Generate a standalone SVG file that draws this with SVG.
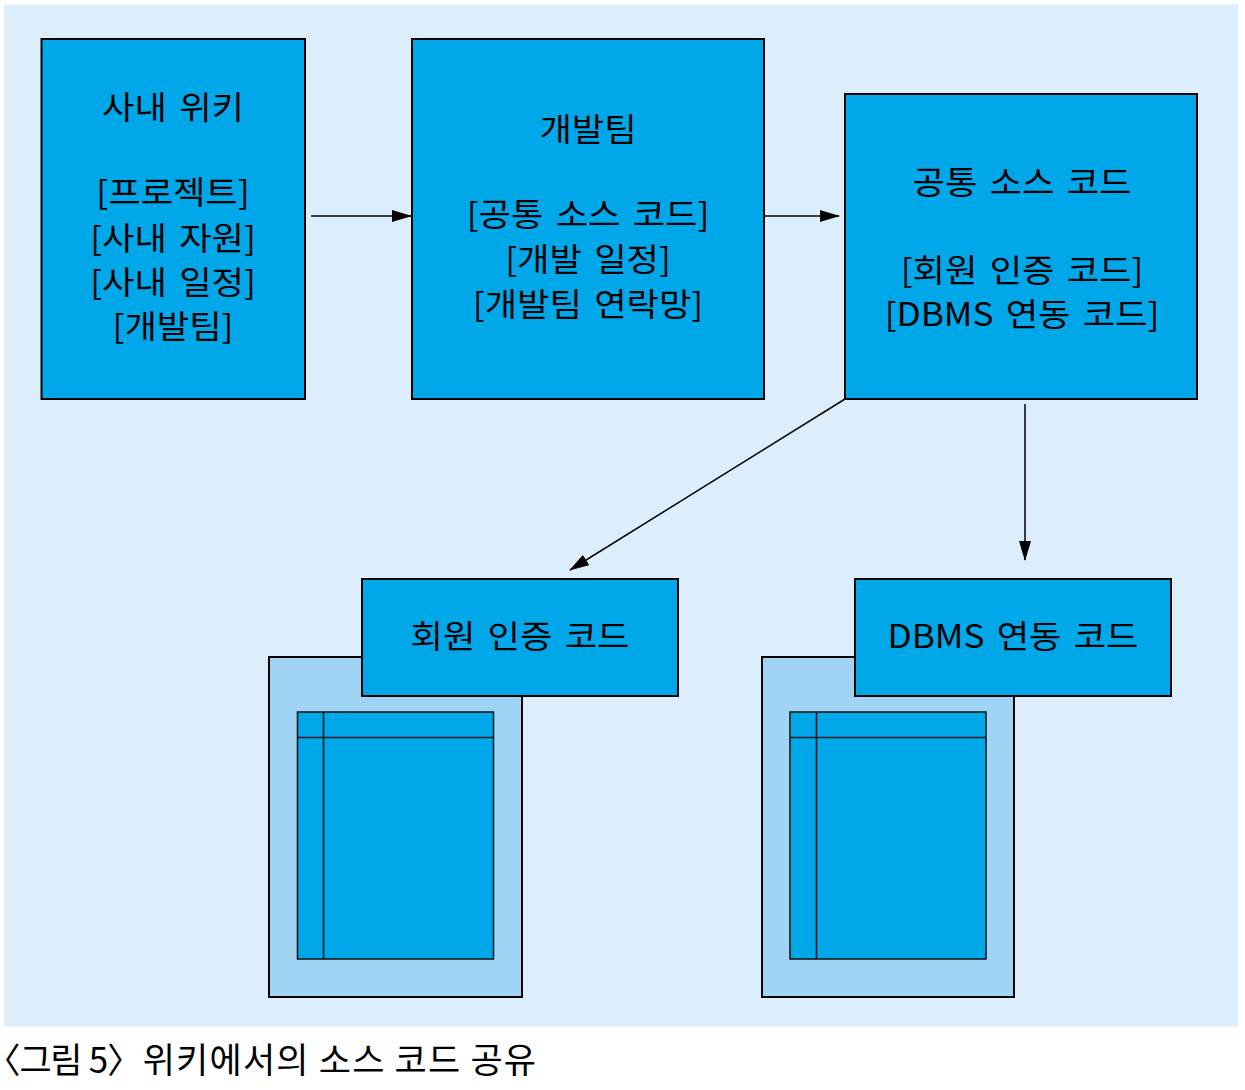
<svg xmlns="http://www.w3.org/2000/svg" width="1245" height="1090" viewBox="0 0 1245 1090">
<defs>
<style>
.bg{fill:#DCEDFB}
.box{fill:#00A7E9;stroke:#000;stroke-width:2}
.back{fill:#A0D4F4;stroke:#000;stroke-width:2}
.inner{fill:#00A7E9;stroke:#1a1a1a;stroke-width:1.6}
.ln{stroke:#1a1a1a;stroke-width:1.6;fill:none}
.t{font-family:"Noto Sans CJK KR","Noto Sans",sans-serif;font-size:32px;fill:#000;text-anchor:middle;word-spacing:4px}
.cap{font-family:"Noto Sans CJK KR","Noto Sans",sans-serif;font-size:35px;fill:#000}
.p{font-feature-settings:"palt"}
.conn{stroke:#000;stroke-width:1.5;fill:none;marker-end:url(#ah)}
</style>
<marker id="ah" markerUnits="userSpaceOnUse" markerWidth="20" markerHeight="12" refX="19" refY="6" orient="auto">
<path d="M0,0 L20,6 L0,12 z" fill="#000"/>
</marker>
</defs>
<rect class="bg" x="4" y="4.5" width="1234" height="1022"/>

<g id="wiki">
<rect class="box" x="41.5" y="39" width="263.5" height="360"/>
<text class="t" transform="translate(173,119) scale(1.1,1)">사내 위키</text>
<text class="t" transform="translate(173,204) scale(1.1,1)">[프로젝트]</text>
<text class="t" transform="translate(173,250) scale(1.1,1)">[사내 자원]</text>
<text class="t" transform="translate(173,294) scale(1.1,1)">[사내 일정]</text>
<text class="t" transform="translate(173,338) scale(1.1,1)">[개발팀]</text>
</g>

<g id="devteam">
<rect class="box" x="412" y="39" width="352" height="360"/>
<text class="t" transform="translate(588,141) scale(1.1,1)">개발팀</text>
<text class="t" transform="translate(588,226) scale(1.1,1)">[공통 소스 코드]</text>
<text class="t" transform="translate(588,271) scale(1.1,1)">[개발 일정]</text>
<text class="t" transform="translate(588,316) scale(1.1,1)">[개발팀 연락망]</text>
</g>

<g id="common">
<rect class="box" x="845" y="94" width="352" height="305"/>
<text class="t" transform="translate(1022,194) scale(1.1,1)">공통 소스 코드</text>
<text class="t" transform="translate(1022,282) scale(1.1,1)">[회원 인증 코드]</text>
<text class="t" transform="translate(1022,326) scale(1.1,1)">[DBMS 연동 코드]</text>
</g>

<g id="auth">
<rect class="back" x="269" y="657" width="253" height="340"/>
<rect class="inner" x="297.5" y="712" width="196" height="247"/>
<line class="ln" x1="323.5" y1="712" x2="323.5" y2="959"/>
<line class="ln" x1="297.5" y1="737.5" x2="493.5" y2="737.5"/>
<rect class="box" x="362" y="579" width="316" height="117"/>
<text class="t" transform="translate(520,648) scale(1.1,1)">회원 인증 코드</text>
</g>

<g id="dbms">
<rect class="back" x="762" y="657" width="252" height="340"/>
<rect class="inner" x="790" y="712" width="196" height="247"/>
<line class="ln" x1="816.5" y1="712" x2="816.5" y2="959"/>
<line class="ln" x1="790" y1="737.5" x2="986" y2="737.5"/>
<rect class="box" x="855" y="579" width="316" height="117"/>
<text class="t" transform="translate(1013,648) scale(1.1,1)">DBMS 연동 코드</text>
</g>

<g id="connectors">
<line class="conn" x1="311" y1="216" x2="411" y2="216"/>
<line class="conn" x1="763" y1="216" x2="839" y2="216"/>
<line class="conn" x1="1025" y1="404" x2="1025" y2="560"/>
<line class="conn" x1="845" y1="399" x2="570" y2="570"/>
</g>

<text class="cap" x="2" y="1073"><tspan class="p">〈</tspan><tspan letter-spacing="-1.5">그림</tspan><tspan> 5</tspan><tspan class="p">〉</tspan><tspan dx="17" letter-spacing="1.2">위키에서의 소스 코드 공유</tspan></text>
</svg>
